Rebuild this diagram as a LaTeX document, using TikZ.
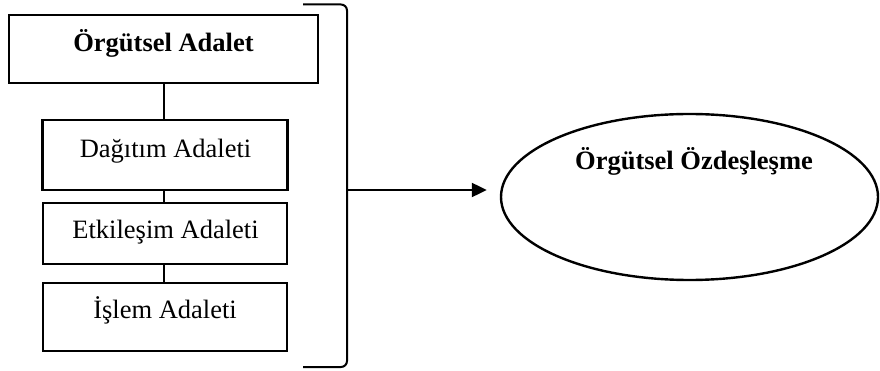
\documentclass[tikz,border=0pt]{standalone}
\usepackage{fontspec}
\setmainfont{Liberation Serif}
\usetikzlibrary{shapes.geometric,arrows.meta}
\newcommand\dgfont{\fontsize{26.5}{30}\selectfont}
\tikzset{
  boxnode/.style={draw=black, line width=2.8pt, inner sep=0pt, fill=white},
  txt/.style={inner sep=0pt, anchor=base, font=\dgfont},
  btxt/.style={inner sep=0pt, anchor=base, font=\dgfont\bfseries},
  conn/.style={draw=black, line width=1.8pt},
  brk/.style={draw=black, line width=2pt, rounded corners=6pt},
  arr/.style={draw=black, line width=2.2pt, -{Triangle[length=15pt,width=14pt]}, shorten >=13pt},
  ovalnode/.style={ellipse, draw=black, line width=2.4pt, inner sep=0pt, fill=white}
}
\begin{document}
\begin{tikzpicture}[x=1pt,y=-1pt]
\useasboundingbox (0,0) rectangle (880,371);
% boxes
\node[boxnode, minimum width=309pt, minimum height=68pt] (org) at (163.5,49) {};
\node[boxnode, minimum width=245pt, minimum height=70pt] (dag) at (165,155) {};
\node[boxnode, minimum width=244pt, minimum height=61pt] (etk) at (165,233.5) {};
\node[boxnode, minimum width=244pt, minimum height=68pt] (isl) at (165,317) {};
% texts
\node[btxt] (orgt) at (163.5,52) {Örgütsel Adalet};
\node[txt] (dagt) at (165.5,157.5) {Dağıtım Adaleti};
\node[txt] (etkt) at (165.5,238.5) {Etkileşim Adaleti};
\node[txt] (islt) at (165,318) {İşlem Adaleti};
% connectors between boxes
\draw[conn] (org.south -| 164,0) -- (dag.north -| 164,0);
\draw[conn] (dag.south -| 164,0) -- (etk.north -| 164,0);
\draw[conn] (etk.south -| 164,0) -- (isl.north -| 164,0);
% bracket
\coordinate (btl) at (303,4.5);
\coordinate (btr) at (347,4.5);
\coordinate (bbr) at (347,367);
\coordinate (bbl) at (303,367);
\coordinate (bmid) at (347,190);
\draw[brk] (btl) -- (btr) -- (bbr) -- (bbl);
% ellipse
\node[ovalnode, minimum width=377pt, minimum height=166pt] (oz) at (689.5,197) {};
\node[btxt] (ozt) at (694,170) {Örgütsel Özdeşleşme};
% arrow
\draw[arr] (bmid) -- (bmid -| oz.west);
\end{tikzpicture}
\end{document}
